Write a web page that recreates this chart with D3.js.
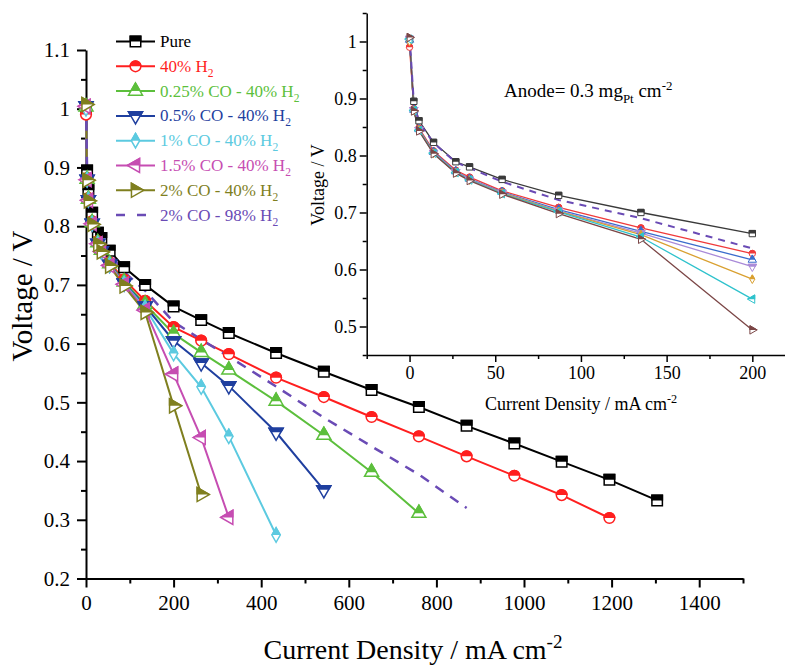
<!DOCTYPE html>
<html>
<head>
<meta charset="utf-8">
<script src="https://cdnjs.cloudflare.com/ajax/libs/d3/7.8.5/d3.min.js"></script>
<style>
	body { margin: 0; background: #fff; }
	svg { display: block; font-family: "Liberation Serif", "Times New Roman", serif; }
	.axis path, .axis line { stroke: #000; }
</style>
</head>
<body>
<svg width="785" height="665"></svg>
<script>
(function() {

	// DATA
	var current = [0, 2.5, 5.5, 14, 27, 35, 54, 87, 135, 200, 263, 326, 434, 543, 652, 760, 869, 978, 1086, 1195, 1304];

	var seriesNames = ['Pure', '40% H2', '0.25% CO - 40% H2', '0.5% CO - 40% H2', '1% CO - 40% H2', '1.5% CO - 40% H2', '2% CO - 40% H2', '2% CO - 98% H2'];

	var voltPure = [1.003, 0.895, 0.861, 0.823, 0.789, 0.780, 0.758, 0.730, 0.700, 0.663, 0.640, 0.618, 0.584, 0.552, 0.521, 0.492, 0.460, 0.430, 0.399, 0.368, 0.333];
	var volt40H2 = [0.990, 0.882, 0.848, 0.808, 0.774, 0.762, 0.738, 0.709, 0.673, 0.628, 0.605, 0.582, 0.542, 0.509, 0.475, 0.442, 0.408, 0.375, 0.342, 0.303];
	var volt025CO = [1.003, 0.880, 0.846, 0.806, 0.772, 0.759, 0.736, 0.705, 0.667, 0.617, 0.585, 0.555, 0.502, 0.444, 0.381, 0.311];
	var volt05CO = [1.005, 0.880, 0.845, 0.805, 0.771, 0.758, 0.735, 0.703, 0.664, 0.605, 0.567, 0.528, 0.449, 0.351];
	var volt1CO = [1.000, 0.879, 0.845, 0.804, 0.770, 0.757, 0.734, 0.702, 0.661, 0.583, 0.526, 0.442, 0.274];
	var volt15CO = [1.004, 0.879, 0.844, 0.804, 0.770, 0.757, 0.733, 0.701, 0.657, 0.548, 0.440, 0.304];
	var volt2CO = [1.007, 0.878, 0.843, 0.803, 0.769, 0.756, 0.732, 0.698, 0.653, 0.494, 0.343];
	var volt2CO98 = [1.010, 0.893, 0.858, 0.822, 0.788, 0.778, 0.754, 0.722, 0.690, 0.637, 0.607, 0.578, 0.527, 0.474, 0.425, 0.377, 0.320];

	var mainXTicks = [0, 200, 400, 600, 800, 1000, 1200, 1400];
	var mainXMinor = [100, 300, 500, 700, 900, 1100, 1300, 1500];
	var mainYTicks = [0.2, 0.3, 0.4, 0.5, 0.6, 0.7, 0.8, 0.9, 1.0, 1.1];
	var mainYMinor = [0.25, 0.35, 0.45, 0.55, 0.65, 0.75, 0.85, 0.95, 1.05];
	var insetXTicks = [0, 50, 100, 150, 200];
	var insetXMinor = [-25, 25, 75, 125, 175];
	var insetYTicks = [0.5, 0.6, 0.7, 0.8, 0.9, 1.0];
	var insetYMinor = [0.45, 0.55, 0.65, 0.75, 0.85, 0.95, 1.05];
	var insetMaxCurrent = 200;

	//STYLE
	var mainColors = ['#000000', '#ff1f1f', '#5cbf3c', '#1f3f9f', '#5ccae0', '#c64db2', '#7f7f1f', '#6a4bb5'];
	var insetColors = ['#3a3a3a', '#f03a3a', '#3a6ccc', '#a98ad8', '#d9a030', '#2ec2cc', '#7b4646', '#6a4bb5'];
	var shapes = ['square', 'circle', 'up', 'down', 'diamond', 'left', 'right', null];

	var voltages = [voltPure, volt40H2, volt025CO, volt05CO, volt1CO, volt15CO, volt2CO, volt2CO98];

	var series = seriesNames.map(function(name, i) {
		return {
			name: name,
			shape: shapes[i],
			dashed: shapes[i] === null,
			values: voltages[i].map(function(v, j) { return { x: current[j], y: v }; })
		};
	});

	var svg = d3.select('svg');
	var fontMain = 21;

	svg.append('defs').append('clipPath')
		.attr('id', 'topHalf')
		.append('rect')
		.attr('x', -20).attr('y', -20)
		.attr('width', 40).attr('height', 20);

	// MARKERS
	function symbolPath(shape, big) {
		var k = big ? 1 : 0.36;
		if (shape === 'square') return { d: d3.symbol(d3.symbolSquare, 110 * k)(), r: 0 };
		if (shape === 'circle') return { d: d3.symbol(d3.symbolCircle, 90 * k)(), r: 0 };
		if (shape === 'diamond') return { d: d3.symbol(d3.symbolDiamond, 60 * k)(), r: 0 };
		var rot = { up: 0, down: 180, left: -90, right: 90 }[shape];
		return { d: d3.symbol(d3.symbolTriangle, 85 * k)(), r: rot };
	}

	function drawMarker(g, shape, color, big) {
		var p = symbolPath(shape, big);
		var sw = big ? 1.5 : 1;
		g.append('path')
			.attr('d', p.d)
			.attr('transform', 'rotate(' + p.r + ')')
			.attr('fill', '#fff')
			.attr('stroke', color)
			.attr('stroke-width', sw);
		g.append('g')
			.attr('clip-path', 'url(#topHalf)')
			.append('path')
			.attr('d', p.d)
			.attr('transform', 'rotate(' + p.r + ')')
			.attr('fill', color)
			.attr('stroke', color)
			.attr('stroke-width', sw);
	}

	function subText(text, base, sub, size, after, supAfter) {
		text.append('tspan').text(base);
		text.append('tspan')
			.attr('dy', size * 0.3)
			.attr('font-size', size * 0.68)
			.text(sub);
		if (after) {
			text.append('tspan')
				.attr('dy', -size * 0.3)
				.attr('font-size', size)
				.text(after);
		}
		if (supAfter) {
			text.append('tspan')
				.attr('dy', -size * 0.38)
				.attr('font-size', size * 0.68)
				.text(supAfter);
		}
	}

	function supText(text, base, sup, size) {
		text.append('tspan').text(base);
		text.append('tspan')
			.attr('dy', -size * 0.38)
			.attr('font-size', size * 0.68)
			.text(sup);
	}

	// MAIN CHART
	var x = d3.scaleLinear().domain([0, 1500]).range([86, 743]);
	var y = d3.scaleLinear().domain([0.2, 1.1]).range([578.5, 50]);

	function drawAxes(g, xs, ys, opt) {
		g.append('g')
			.attr('class', 'axis')
			.attr('transform', 'translate(0,' + ys.range()[0] + ')')
			.call(d3.axisBottom(xs).tickValues(opt.xTicks).tickSize(opt.major).tickSizeOuter(0)
				.tickPadding(opt.xPad).tickFormat(d3.format('~g')));
		g.append('g')
			.attr('class', 'axis')
			.attr('transform', 'translate(0,' + ys.range()[0] + ')')
			.call(d3.axisBottom(xs).tickValues(opt.xMinor).tickSize(opt.minor).tickFormat(''))
			.select('.domain').remove();
		g.append('g')
			.attr('class', 'axis')
			.attr('transform', 'translate(' + xs.range()[0] + ',0)')
			.call(d3.axisLeft(ys).tickValues(opt.yTicks).tickSize(opt.major).tickSizeOuter(0)
				.tickPadding(opt.yPad).tickFormat(d3.format('~g')));
		g.append('g')
			.attr('class', 'axis')
			.attr('transform', 'translate(' + xs.range()[0] + ',0)')
			.call(d3.axisLeft(ys).tickValues(opt.yMinor).tickSize(opt.minor).tickFormat(''))
			.select('.domain').remove();

		// d3 puts sans-serif on the axis group, drop it so the serif face is used
		g.selectAll('.axis')
			.attr('font-family', null)
			.attr('font-size', opt.font);
		g.selectAll('.axis path, .axis line').attr('stroke-width', opt.sw);
		g.selectAll('.axis text').attr('fill', '#000');
	}

	var main = svg.append('g').attr('class', 'main');

	drawAxes(main, x, y, {
		xTicks: mainXTicks, xMinor: mainXMinor, yTicks: mainYTicks, yMinor: mainYMinor,
		major: 9, minor: 5, xPad: 8, yPad: 7, sw: 2, font: fontMain
	});

	var line = d3.line()
		.x(function(d) { return x(d.x); })
		.y(function(d) { return y(d.y); });

	var mainPlot = main.append('g');

	series.forEach(function(s, i) {
		mainPlot.append('path')
			.attr('d', line(s.values))
			.attr('fill', 'none')
			.attr('stroke', mainColors[i])
			.attr('stroke-width', s.dashed ? 2.5 : 2)
			.attr('stroke-dasharray', s.dashed ? '10,8' : null);
	});

	series.forEach(function(s, i) {
		if (!s.shape) return;
		s.values.forEach(function(d) {
			var g = mainPlot.append('g')
				.attr('transform', 'translate(' + x(d.x) + ',' + y(d.y) + ')');
			drawMarker(g, s.shape, mainColors[i], true);
		});
	});

	main.append('text')
		.attr('transform', 'translate(32,296)rotate(-90)')
		.attr('text-anchor', 'middle')
		.attr('font-size', 29)
		.text('Voltage / V');

	supText(main.append('text')
		.attr('x', 413)
		.attr('y', 659)
		.attr('text-anchor', 'middle')
		.attr('font-size', 28), 'Current Density / mA cm', '-2', 28);

	// LEGEND
	var legend = main.append('g').attr('class', 'legend');
	series.forEach(function(s, i) {
		var ly = 41.5 + i * 24.8;
		var row = legend.append('g').attr('transform', 'translate(0,' + ly + ')');
		row.append('line')
			.attr('x1', 116).attr('x2', 155)
			.attr('stroke', mainColors[i])
			.attr('stroke-width', s.dashed ? 2.5 : 2)
			.attr('stroke-dasharray', s.dashed ? '9,12' : null);
		if (s.shape) drawMarker(row.append('g').attr('transform', 'translate(135.5,0)'), s.shape, mainColors[i], true);
		var t = row.append('text')
			.attr('x', 160)
			.attr('y', 5.5)
			.attr('font-size', 17)
			.attr('fill', mainColors[i]);
		if (/H2$/.test(s.name)) subText(t, s.name.slice(0, -1), '2', 17);
		else t.text(s.name);
	});

	// INSET
	var ix = d3.scaleLinear().domain([-25, 220]).range([366.7, 786.6]);
	var iy = d3.scaleLinear().domain([0.45, 1.05]).range([355, 13]);

	var inset = svg.append('g').attr('class', 'inset');

	drawAxes(inset, ix, iy, {
		xTicks: insetXTicks, xMinor: insetXMinor, yTicks: insetYTicks, yMinor: insetYMinor,
		major: 7, minor: 4, xPad: 4, yPad: 3, sw: 1.5, font: 18
	});

	var iline = d3.line()
		.x(function(d) { return ix(d.x); })
		.y(function(d) { return iy(d.y); });

	var insetPlot = inset.append('g');

	series.forEach(function(s, i) {
		var vals = s.values.filter(function(d) { return d.x <= insetMaxCurrent; });
		insetPlot.append('path')
			.attr('d', iline(vals))
			.attr('fill', 'none')
			.attr('stroke', insetColors[i])
			.attr('stroke-width', s.dashed ? 2 : 1.3)
			.attr('stroke-dasharray', s.dashed ? '7,6' : null);
	});

	series.forEach(function(s, i) {
		if (!s.shape) return;
		s.values.filter(function(d) { return d.x <= insetMaxCurrent; }).forEach(function(d) {
			var g = insetPlot.append('g')
				.attr('transform', 'translate(' + ix(d.x) + ',' + iy(d.y) + ')');
			drawMarker(g, s.shape, insetColors[i], false);
		});
	});

	inset.append('text')
		.attr('transform', 'translate(324,185)rotate(-90)')
		.attr('text-anchor', 'middle')
		.attr('font-size', 18)
		.text('Voltage / V');

	supText(inset.append('text')
		.attr('x', 581)
		.attr('y', 410)
		.attr('text-anchor', 'middle')
		.attr('font-size', 18), 'Current Density / mA cm', '-2', 18);

	subText(inset.append('text')
		.attr('x', 504)
		.attr('y', 97)
		.attr('font-size', 19), 'Anode= 0.3 mg', 'Pt', 19, ' cm', '-2');

})()
</script>
</body>
</html>
